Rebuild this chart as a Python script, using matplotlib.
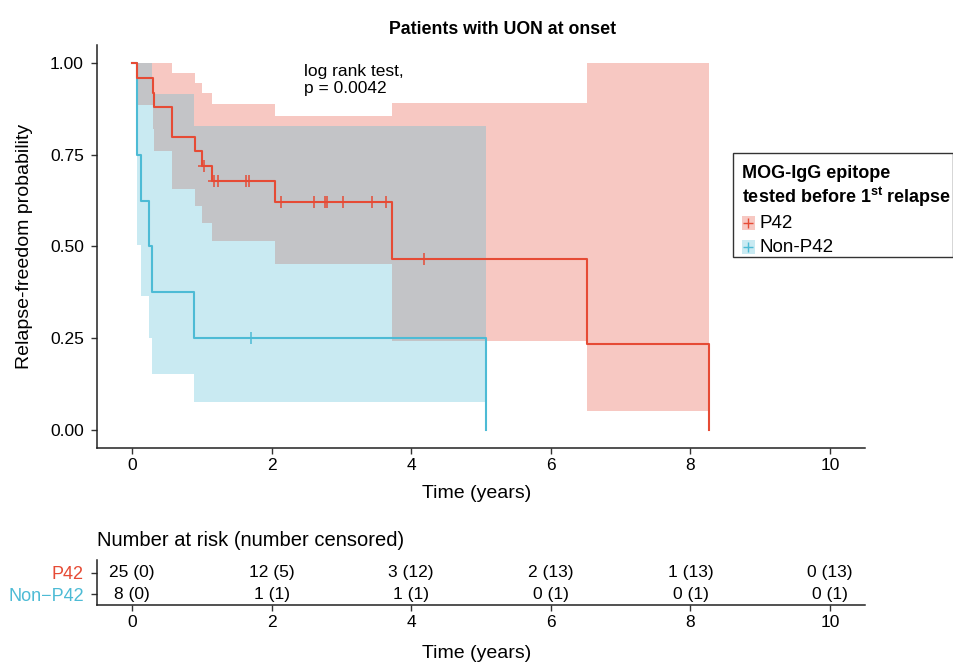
import numpy as np
import matplotlib
matplotlib.use("Agg")
import matplotlib.pyplot as plt
from matplotlib.patches import Rectangle

plt.rcParams["font.family"] = ["Liberation Sans", "DejaVu Sans"]
plt.rcParams["mathtext.fontset"] = "custom"
plt.rcParams["mathtext.bf"] = "Liberation Sans:bold"
plt.rcParams["mathtext.rm"] = "Liberation Sans"

# ---- data ----
groups = ["P42", "Non\u2212P42"]
legend_labels = ["P42", "Non-P42"]
line_colors = ["#E64B35", "#4DBBD5"]

# P42 Kaplan-Meier steps with 95% CI
p42_time = [0, 0.08, 0.295, 0.32, 0.58, 0.90, 1.01, 1.15, 2.05, 3.73, 6.52, 8.26]
p42_surv = [1.0, 0.96, 0.92, 0.88, 0.80, 0.76, 0.72, 0.678, 0.621, 0.466, 0.233, 0.0]
p42_upper = [1.0, 1.0, 1.0, 1.0, 0.973, 0.947, 0.919, 0.889, 0.856, 0.893, 1.0, 1.0]
p42_lower = [1.0, 0.886, 0.820, 0.761, 0.658, 0.610, 0.564, 0.516, 0.451, 0.243, 0.050, 0.050]
p42_censor = [1.03, 1.17, 1.24, 1.63, 1.67, 2.13, 2.61, 2.77, 2.80, 3.03, 3.44, 3.64, 4.19]

# Non-P42
np42_time = [0, 0.07, 0.13, 0.25, 0.29, 0.89, 5.07]
np42_surv = [1.0, 0.75, 0.625, 0.50, 0.375, 0.25, 0.0]
np42_upper = [1.0, 1.0, 1.0, 1.0, 0.917, 0.830, 0.830]
np42_lower = [1.0, 0.503, 0.365, 0.25, 0.153, 0.075, 0.075]
np42_censor = [1.71]

# number at risk table
risk_times = [0, 2, 4, 6, 8, 10]
p42_risk = ["25 (0)", "12 (5)", "3 (12)", "2 (13)", "1 (13)", "0 (13)"]
np42_risk = ["8 (0)", "1 (1)", "1 (1)", "0 (1)", "0 (1)", "0 (1)"]

W, H = 954, 664
fig = plt.figure(figsize=(W / 100, H / 100), dpi=100)


def px_axes(l, t, r, b):
    return fig.add_axes([l / W, 1 - b / H, (r - l) / W, (b - t) / H])


def style(ax):
    for s in ["top", "right"]:
        ax.spines[s].set_visible(False)
    for s in ["left", "bottom"]:
        ax.spines[s].set_linewidth(1.1)
        ax.spines[s].set_color("#222222")
    ax.tick_params(length=4.5, width=1.0, color="#333333", labelsize=12.5)
    ax.tick_params(axis="y", pad=5)
    ax.tick_params(axis="x", pad=3)


ax = px_axes(97, 45, 865, 448)
style(ax)

series = [
    (p42_time, p42_surv, p42_lower, p42_upper, p42_censor),
    (np42_time, np42_surv, np42_lower, np42_upper, np42_censor),
]
for (t, s, lo, up, cen), col in zip(series, line_colors):
    ax.fill_between(t, lo, up, step="post", color=col, alpha=0.3, lw=0)
for (t, s, lo, up, cen), col in zip(series[::-1], line_colors[::-1]):
    ax.step(t, s, where="post", color=col, lw=1.5)
    idx = np.searchsorted(t, cen, side="right") - 1
    ax.plot(cen, np.asarray(s)[idx], ls="none", marker="+", ms=8, mew=1.1, color=col)

ax.set_xlim(-0.5, 10.5)
ax.set_ylim(-0.05, 1.05)
ax.set_xticks(risk_times)
ax.set_yticks([0, 0.25, 0.5, 0.75, 1.0])
ax.set_yticklabels(["0.00", "0.25", "0.50", "0.75", "1.00"])
fig.text(477 / W, 1 - 493 / H, "Time (years)", fontsize=14, ha="center", va="center")
fig.text(25 / W, 1 - 246 / H, "Relapse-freedom probability", fontsize=14, ha="center",
         va="center", rotation=90)
ax.text(2.47, 0.955, "log rank test,\np = 0.0042", fontsize=12.5, va="center", ha="left",
        linespacing=1.15)
fig.text(503 / W, 1 - 30 / H, "Patients with UON at onset", fontsize=12.8,
         fontweight="bold", ha="center", va="center")

# legend box
lx0, ly0, lx1, ly1 = 733, 153, 953, 257
fig.patches.append(Rectangle((lx0 / W, 1 - ly1 / H), (lx1 - lx0) / W, (ly1 - ly0) / H,
                             transform=fig.transFigure, fill=False, ec="#333333", lw=1.0))
fig.text(742 / W, 1 - 174 / H, "MOG-IgG epitope", fontsize=13, fontweight="bold",
         va="center", ha="left")
fig.text(742 / W, 1 - 197 / H, r"tested before 1$^{\mathbf{st}}$ relapse", fontsize=13,
         fontweight="bold", va="center", ha="left")
for i, (lab, col) in enumerate(zip(legend_labels, line_colors)):
    yc = 223 + 24 * i
    fig.patches.append(Rectangle((742 / W, 1 - (yc + 7) / H), 13 / W, 14 / H,
                                 transform=fig.transFigure, color=col, alpha=0.3, lw=0))
    fig.lines.append(plt.Line2D([748.5 / W], [1 - yc / H], transform=fig.transFigure,
                                marker="+", ms=7, mew=1.0, color=col, ls="none"))
    fig.text(760 / W, 1 - yc / H, lab, fontsize=13.5, va="center", ha="left")

# risk table
rax = px_axes(97, 560, 865, 605)
style(rax)
rax.set_xlim(-0.5, 10.5)
rax.set_ylim(0.5, 2.6)
rax.set_xticks(risk_times)
rax.set_yticks([2, 1])
rax.set_yticklabels(groups, fontsize=13)
for lbl, col in zip(rax.get_yticklabels(), line_colors):
    lbl.set_color(col)
for xt, a, b in zip(risk_times, p42_risk, np42_risk):
    rax.text(xt, 2, a, ha="center", va="center", fontsize=12.5)
    rax.text(xt, 1, b, ha="center", va="center", fontsize=12.5)
fig.text(477 / W, 1 - 654 / H, "Time (years)", fontsize=14, ha="center", va="center")
fig.text(97 / W, 1 - 541 / H, "Number at risk (number censored)", fontsize=14.5,
         ha="left", va="center")

fig.savefig("out.png", dpi=100)
